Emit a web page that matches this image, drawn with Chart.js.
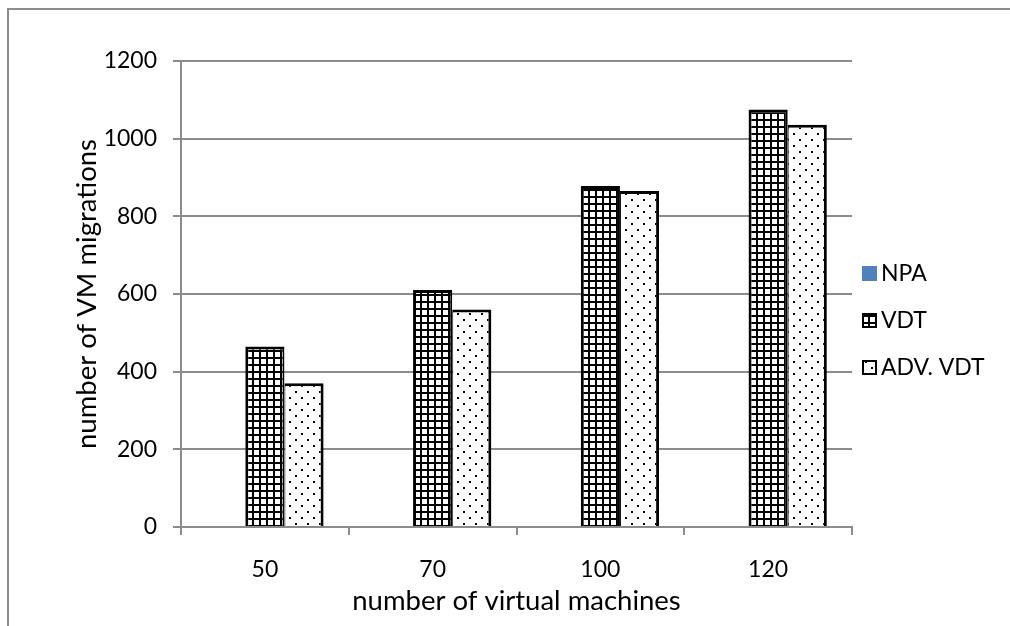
<!DOCTYPE html>
<html>
<head>
<meta charset="utf-8">
<script src="https://cdn.jsdelivr.net/npm/chart.js@4.4.1/dist/chart.umd.min.js"></script>
<style>
html, body { margin: 0; padding: 0; background: #fff; }
#wrap { position: relative; width: 1010px; height: 626px; overflow: hidden; }
#frame { position: absolute; left: 7px; top: 8px; width: 1100px; height: 700px;
  border-left: 2px solid #8c8c8c; border-top: 2px solid #8c8c8c; }
canvas { position: absolute; left: 0; top: 0; }
</style>
</head>
<body>
<div id="wrap">
  <div id="frame"></div>
  <canvas id="chart" width="1010" height="626"></canvas>
</div>
<script>
// data
var categories = ['50', '70', '100', '120'];
var npaValues = [0, 0, 0, 0];
var vdtValues = [465, 610, 878, 1075];
var advVdtValues = [370, 560, 865, 1036];
var seriesNames = ['NPA', 'VDT', 'ADV. VDT'];

var FONT = 'Lato, "Open Sans", sans-serif';
var GRID = '#8c8c8c';

// fill patterns like the Excel ones
function gridPattern() {
  var c = document.createElement('canvas');
  c.width = 7; c.height = 7;
  var g = c.getContext('2d');
  g.fillStyle = '#fff';
  g.fillRect(0, 0, 7, 7);
  g.fillStyle = '#000';
  g.fillRect(0, 0, 7, 2);
  g.fillRect(0, 0, 2, 7);
  return g.createPattern(c, 'repeat');
}
function dotPattern() {
  var c = document.createElement('canvas');
  c.width = 12; c.height = 12;
  var g = c.getContext('2d');
  g.fillStyle = '#fff';
  g.fillRect(0, 0, 12, 12);
  g.fillStyle = '#000';
  g.fillRect(1, 1, 2, 2);
  g.fillRect(7, 7, 2, 2);
  return g.createPattern(c, 'repeat');
}

var ctx = document.getElementById('chart').getContext('2d');
var fills = ['#4f81bd', gridPattern(), dotPattern()];

// legend on the right, drawn by hand so the spacing matches
var sideLegend = {
  id: 'sideLegend',
  afterDraw: function(chart) {
    var c = chart.ctx;
    var ys = [273, 320, 367];
    c.save();
    c.font = '23px ' + FONT;
    c.textBaseline = 'middle';
    c.textAlign = 'left';
    chart.data.datasets.forEach(function(ds, i) {
      var y = ys[i];
      c.fillStyle = ds.backgroundColor;
      if (i === 0) {
        c.fillRect(862, y - 7, 15, 15);
      } else {
        c.fillRect(863, y - 6, 13, 13);
        c.strokeStyle = '#000';
        c.lineWidth = 2;
        c.strokeRect(863, y - 6, 13, 13);
      }
      c.fillStyle = '#000';
      c.fillText(ds.label, 881, y + 1);
    });
    c.restore();
  }
};

new Chart(ctx, {
  type: 'bar',
  data: {
    labels: categories,
    datasets: [
      { label: seriesNames[0], data: npaValues, backgroundColor: fills[0], borderWidth: 0 },
      { label: seriesNames[1], data: vdtValues, backgroundColor: fills[1], borderColor: '#000',
        borderWidth: { left: 3, top: 3, right: 2, bottom: 0 } },
      { label: seriesNames[2], data: advVdtValues, backgroundColor: fills[2], borderColor: '#000',
        borderWidth: { left: 1, top: 3, right: 3, bottom: 0 } }
    ]
  },
  options: {
    responsive: false,
    animation: false,
    layout: { padding: { left: 0, top: 61, right: 158, bottom: 0 } },
    datasets: { bar: { categoryPercentage: 0.7, barPercentage: 1.0 } },
    plugins: {
      legend: { display: false },
      tooltip: { enabled: false }
    },
    scales: {
      x: {
        afterFit: function(s) { s.height = 99; },
        grid: { drawOnChartArea: false, drawTicks: true, tickLength: 8, color: GRID, offset: true, lineWidth: 2 },
        border: { color: GRID, width: 2 },
        ticks: { color: '#000', padding: 21, font: { family: FONT, size: 23 } },
        title: { display: true, text: 'number of virtual machines', color: '#000',
                 padding: { top: 0, bottom: 8 }, font: { family: FONT, size: 27.5 } }
      },
      y: {
        min: 0,
        max: 1200,
        afterFit: function(s) { s.width = 181; },
        grid: { color: GRID, lineWidth: 2, tickLength: 8 },
        border: { color: GRID, width: 2 },
        ticks: { stepSize: 200, color: '#000', padding: 16, font: { family: FONT, size: 23 },
                 callback: function(v) { return String(v); } },
        title: { display: true, text: 'number of VM migrations', color: '#000',
                 padding: { top: 71, bottom: 0 }, font: { family: FONT, size: 27.5 } }
      }
    }
  },
  plugins: [sideLegend]
});
</script>
</body>
</html>
